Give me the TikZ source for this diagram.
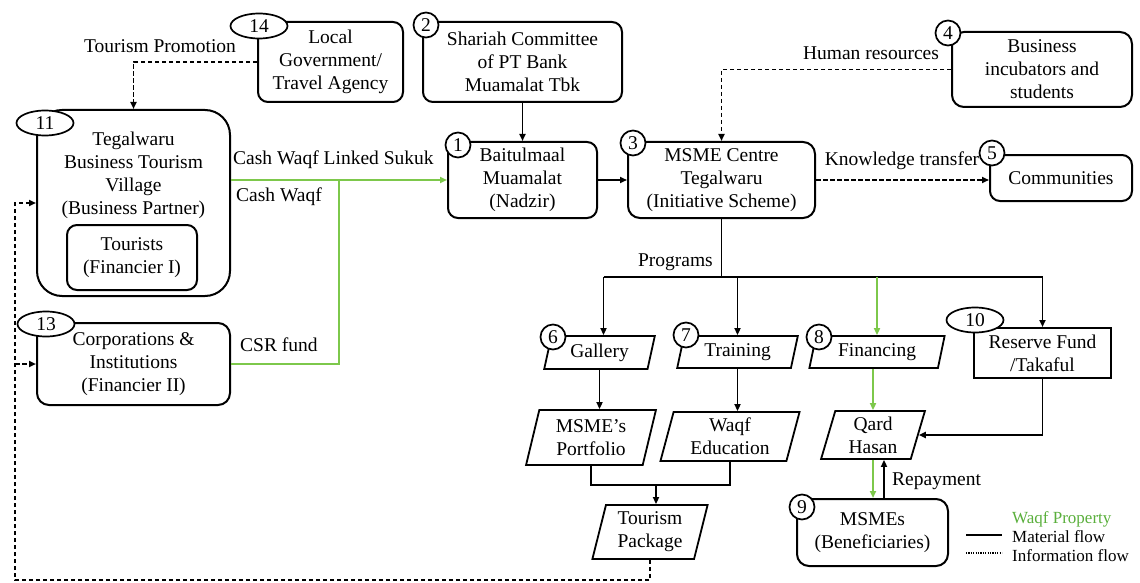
\documentclass[tikz,border=0pt]{standalone}
\usepackage{fontspec}
\setmainfont{Liberation Serif}
\usetikzlibrary{shapes.geometric,arrows.meta,calc}
\definecolor{wgreen}{RGB}{125,200,75}
\definecolor{wtext}{RGB}{90,175,60}
\tikzset{
  every node/.style={font=\fontsize{19.5}{23}\selectfont, inner sep=1pt},
  rbox/.style={draw, line width=2pt, rounded corners=10pt, align=center},
  sbox/.style={draw, line width=2pt, align=center},
  para/.style={draw, line width=1.8pt, shape=trapezium, trapezium left angle=76,
    trapezium right angle=104, trapezium stretches=true, align=center, inner sep=0pt},
  badge/.style={draw, circle, line width=1.7pt, fill=white, minimum size=25pt, inner sep=0pt},
  ebadge/.style={draw, ellipse, line width=1.7pt, fill=white, minimum width=57pt, minimum height=25pt, inner sep=0pt},
  flow/.style={line width=1.7pt, -{Triangle[length=7pt,width=6pt]}},
  plain/.style={line width=1.7pt},
  info/.style={line width=1.8pt, dash pattern=on 4.5pt off 2.5pt, -{Triangle[length=7pt,width=6pt]}},
  gflow/.style={line width=2pt, draw=wgreen, -{Triangle[length=7pt,width=6pt]}, color=wgreen},
  gplain/.style={line width=2pt, draw=wgreen},
  lbl/.style={inner sep=0pt},
  leg/.style={font=\fontsize{17}{20}\selectfont, inner sep=0pt, anchor=west}
}
\begin{document}
\begin{tikzpicture}[x=1pt,y=-1pt]
\useasboundingbox (0,0) rectangle (1140,583);

% nodes
\node[rbox, minimum width=145pt, minimum height=80pt] (n14) at (330.5,62) {Local\\Government/\\Travel Agency};
\node[ebadge] (e14) at (259,26) {14};

\node[rbox, minimum width=199pt, minimum height=80pt] (n2) at (522.5,62) {Shariah Committee\\of PT Bank\\Muamalat Tbk};
\node[badge] (c2) at (426,25) {2};

\node[draw, line width=2pt, rounded corners=25pt, minimum width=193pt, minimum height=186pt] (n11) at (133.5,203) {};
\node[align=center] (n11t) at (133.5,175) {Tegalwaru\\Business Tourism\\Village\\(Business Partner)};
\node[rbox, minimum width=130pt, minimum height=65pt] (ntour) at (132,257.5) {Tourists\\(Financier I)};
\node[ebadge] (e11) at (45,123) {11};

\node[rbox, rounded corners=12pt, minimum width=193pt, minimum height=82pt] (n13) at (133.5,364) {Corporations \&\\Institutions\\(Financier II)};
\node[ebadge] (e13) at (46,324) {13};

\node[rbox, minimum width=149pt, minimum height=76pt] (n1) at (522.5,180) {Baitulmaal\\Muamalat\\(Nadzir)};
\node[badge] (c1) at (458,145) {1};

\node[rbox, rounded corners=12pt, minimum width=187pt, minimum height=76pt] (n3) at (721.5,180) {MSME Centre\\Tegalwaru\\(Initiative Scheme)};
\node[badge] (c3) at (633,143) {3};

\node[rbox, rounded corners=12pt, minimum width=180pt, minimum height=75pt] (n4) at (1042,69.5) {Business\\incubators and\\students};
\node[badge] (c4) at (948,33) {4};

\node[rbox, minimum width=142pt, minimum height=46pt] (n5) at (1061,178) {Communities};
\node[badge] (c5) at (992,153) {5};

\node[para, minimum width=111pt, minimum height=33pt] (n6) at (599.5,352.5) {Gallery};
\node[badge] (c6) at (553,337) {6};
\node[para, minimum width=121pt, minimum height=32pt] (n7) at (737.5,352) {Training};
\node[badge] (c7) at (686,335) {7};
\node[para, minimum width=136pt, minimum height=32pt] (n8) at (877,352) {Financing};
\node[badge] (c8) at (819,337) {8};
\node[sbox, minimum width=137pt, minimum height=50pt] (n10) at (1042.5,353) {Reserve Fund\\/Takaful};
\node[ebadge] (e10) at (975,320) {10};

\node[para, minimum width=130pt, minimum height=55pt] (nP) at (591,437.5) {MSME’s\\Portfolio};
\node[para, minimum width=140pt, minimum height=49pt] (nW) at (730,436.5) {Waqf\\Education};
\node[para, minimum width=104pt, minimum height=48pt] (nQ) at (873,435) {Qard\\Hasan};
\node[para, minimum width=116pt, minimum height=54pt] (nT) at (650,532) {Tourism\\Package};

\node[rbox, rounded corners=12pt, minimum width=151pt, minimum height=67pt] (n9) at (872.5,532.5) {MSMEs\\(Beneficiaries)};
\node[badge] (c9) at (802,507) {9};

% labels
\node[lbl] (lTP) at (160,46) {Tourism Promotion};
\node[lbl, anchor=west] (lCWLS) at (233,160) {Cash Waqf Linked Sukuk};
\node[lbl, anchor=west] (lCW) at (236,197) {Cash Waqf};
\node[lbl, anchor=west] (lCSR) at (240,345) {CSR fund};
\node[lbl] (lHR) at (871,53) {Human resources};
\node[lbl] (lKT) at (902,161) {Knowledge transfer};
\node[lbl, anchor=east] (lPr) at (713,262) {Programs};
\node[lbl, anchor=west] (lRp) at (892,481) {Repayment};

% coordinates
\coordinate (jP) at (721.5,277);
\coordinate (jG) at (339,0);
\coordinate (jT) at (656,485);
\coordinate (fb) at (15,580);
\coordinate (rp) at (884,0);

% connectors
\draw[info] (n14.west) -| (n11.north);
\draw[flow] (n2.south) -- (n1.north);
\draw[flow] (n1.east) -- (n3.west);
\draw[info] (n4.west) -| (n3.north);
\draw[info] (n3.east) -- (n3.east -| n5.west);

\draw[gflow] (n11.east |- n1.west) -- (n1.west);
\draw[gplain] (n13.east) -| (jG |- n1.west);

\draw[plain] (n3.south) -- (jP);
\draw[plain] ([xshift=4pt]n6.north |- jP) -- (n10.north |- jP);
\draw[flow] ([xshift=4pt]n6.north |- jP) -- ([xshift=4pt]n6.north);
\draw[flow] (n7.north |- jP) -- (n7.north);
\draw[gflow] (n8.north |- jP) -- (n8.north);
\draw[flow] (n10.north |- jP) -- (n10.north);

\draw[flow] (n6.south) -- (n6.south |- nP.north);
\draw[flow] (n7.south) -- (n7.south |- nW.north);
\draw[gflow] (nQ.north |- n8.south) -- (nQ.north);
\draw[flow] (n10.south) |- (nQ.east);
\draw[gflow] (nQ.south) -- (nQ.south |- n9.north);
\draw[flow] (rp |- n9.north) -- (rp |- nQ.south);

\draw[plain] (nP.south) |- (jT) -| (nW.south);
\draw[flow] (jT) -- (jT |- nT.north);

\draw[info] (nT.south) |- (fb) |- (n11.west);
\draw[info] (fb |- n13.west) -- (n13.west);

% legend
\node[leg, text=wtext] (lg1) at (1012,519) {Waqf Property};
\node[leg] (lg2) at (1012,537) {Material flow};
\node[leg] (lg3) at (1012,556) {Information flow};
\draw[line width=1.7pt] (966,535) -- (1002,535);
\draw[line width=1.5pt, dash pattern=on 1.2pt off 1.2pt] (966,553) -- (1002,553);
\end{tikzpicture}
\end{document}
